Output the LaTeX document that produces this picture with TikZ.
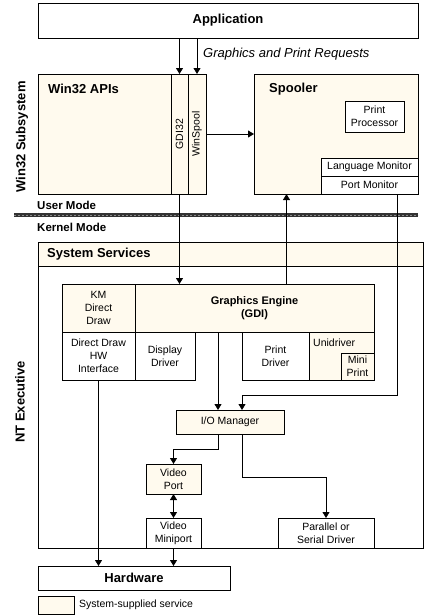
\documentclass[tikz,border=0pt]{standalone}
\usepackage{fontspec}
\setmainfont{Liberation Sans}
\usepackage{graphicx}
\usetikzlibrary{calc,arrows.meta}

\definecolor{svc}{RGB}{255,250,238}
\newcommand\boxfont{\fontsize{10.5}{13}\selectfont}
\newcommand\headfont{\fontsize{13}{15}\selectfont\bfseries}
\newcommand\modefont{\fontsize{11.5}{13}\selectfont\bfseries}

\tikzset{
  box/.style={draw,line width=0.8pt,inner sep=0pt,outer sep=0pt,anchor=north west,align=center,font=\boxfont},
  svcbox/.style={box,fill=svc},
  arr/.style={line width=0.8pt,-{Triangle[width=7pt,length=6pt]}},
  arr2/.style={line width=0.8pt,{Triangle[width=7pt,length=6pt]}-{Triangle[width=7pt,length=6pt]}}
}

\begin{document}
\begin{tikzpicture}[x=1pt,y=-1pt]
  \useasboundingbox (0,0) rectangle (424,616);
  \node[box,minimum width=380pt,minimum height=35pt,font=\headfont] (app) at (38,3) {Application};
  \node[svcbox,minimum width=133pt,minimum height=120pt] (win32) at (38,74) {};
  \node[svcbox,minimum width=17pt,minimum height=120pt] (gdi32) at (171,74) {\rotatebox{90}{GDI32}};
  \node[svcbox,minimum width=18pt,minimum height=120pt] (winspool) at (188,74) {\rotatebox{90}{WinSpool}};
  \node[anchor=west,inner sep=0pt,font=\headfont] (win32 label) at ($ (win32.north west) + (10,15) $) {Win32 APIs};
  \node[svcbox,minimum width=164pt,minimum height=120pt] (spooler) at (254,74) {};
  \node[anchor=west,inner sep=0pt,font=\headfont] (spooler label) at ($ (spooler.north west) + (15,15) $) {Spooler};
  \node[box,fill=white,minimum width=59pt,minimum height=31pt] (print proc) at (345,101) {Print\\Processor};
  \node[box,fill=white,minimum width=97pt,minimum height=18pt] (lang mon) at (321,158) {Language Monitor};
  \node[box,fill=white,minimum width=97pt,minimum height=18pt,anchor=north] (port mon) at (lang mon.south) {Port Monitor};
  \node[anchor=west,inner sep=0pt,font={\fontsize{13}{15}\selectfont\itshape}] (requests label) at (203,54) {Graphics and Print Requests};
  \node[rotate=90,inner sep=0pt,font=\headfont] (win32 sub) at (22,137) {Win32 Subsystem};

  \node[anchor=west,inner sep=0pt,font=\modefont] (user mode) at (37,205) {User Mode};
  \node[anchor=west,inner sep=0pt,font=\modefont] (kernel mode) at (37,227) {Kernel Mode};
  \coordinate (bar west) at (14,215);
  \coordinate (bar east) at (418,215);
  \draw[line width=4pt,black!80] (bar west) -- (bar east);
  \draw[line width=1pt,black!45,dash pattern=on 2pt off 2pt] (bar west) -- (bar east);

  \node[box,minimum width=385pt,minimum height=306pt] (nt exec) at (38,242) {};
  \node[svcbox,minimum width=385pt,minimum height=24pt] (sys serv) at (38,242) {};
  \node[anchor=west,inner sep=0pt,font=\headfont] (sys serv label) at ($ (sys serv.west) + (9,0) $) {System Services};
  \node[rotate=90,inner sep=0pt,font=\headfont] (nt label) at (20,402) {NT Executive};

  \node[svcbox,minimum width=73pt,minimum height=48pt] (km dd) at (62,284) {KM\\Direct\\Draw};
  \node[svcbox,minimum width=239pt,minimum height=48pt,font={\fontsize{11}{13}\selectfont\bfseries}] (gdi) at (km dd.north east) {Graphics Engine\\(GDI)};
  \node[box,minimum width=73pt,minimum height=48pt] (dd hw) at (km dd.south west) {Direct Draw\\HW\\Interface};
  \node[box,minimum width=60pt,minimum height=48pt] (display) at (dd hw.north east) {Display\\Driver};
  \node[box,minimum width=67pt,minimum height=48pt] (print drv) at (242,332) {Print\\Driver};
  \node[svcbox,minimum width=65pt,minimum height=48pt] (unidrv) at (print drv.north east) {};
  \node[anchor=west,inner sep=0pt,font=\boxfont] (unidrv label) at ($ (unidrv.north west) + (4,11) $) {Unidriver};
  \node[box,minimum width=33pt,minimum height=27pt,anchor=south east] (mini print) at (unidrv.south east) {Mini\\Print};

  \node[svcbox,minimum width=108pt,minimum height=24pt] (io mgr) at (176,410) {I/O Manager};
  \node[svcbox,minimum width=55pt,minimum height=30pt] (video port) at (146,464) {Video\\Port};
  \node[box,minimum width=55pt,minimum height=30pt] (video mini) at (146,518) {Video\\Miniport};
  \node[box,minimum width=96pt,minimum height=30pt] (par ser) at (278,518) {Parallel or\\Serial Driver};

  \node[box,minimum width=192pt,minimum height=24pt,font=\headfont] (hw) at (38,566) {Hardware};
  \node[svcbox,minimum width=36pt,minimum height=18pt] (legend) at (38,596) {};
  \node[anchor=west,inner sep=0pt,font=\boxfont] (legend label) at ($ (legend.east) + (5,0) $) {System-supplied service};

  \draw[arr] (app.south -| gdi32.center) -- (gdi32.north);
  \draw[arr] (app.south -| winspool.center) -- (winspool.north);
  \draw[arr] (winspool.east) -- (spooler.west);
  \draw[arr] (gdi32.south) -- (gdi32.south |- gdi.north);
  \draw[arr] ([xshift=32pt]gdi.north) -- ([xshift=32pt]gdi.north |- spooler.south);
  \draw[arr] ([xshift=-12pt]io mgr.north |- gdi.south) -- ([xshift=-12pt]io mgr.north);
  \draw[arr] ([xshift=28pt]port mon.south) -- ++(0,201) -| ([xshift=12pt]io mgr.north);
  \draw[arr] ([xshift=-12pt]io mgr.south) -- ++(0,15) -| (video port.north);
  \draw[arr] ([xshift=12pt]io mgr.south) -- ++(0,43) -| (par ser.north);
  \draw[arr2] (video port.south) -- (video mini.north);
  \draw[arr] (dd hw.south) -- (dd hw.south |- hw.north);
  \draw[arr] (video mini.south) -- (video mini.south |- hw.north);
\end{tikzpicture}
\end{document}
